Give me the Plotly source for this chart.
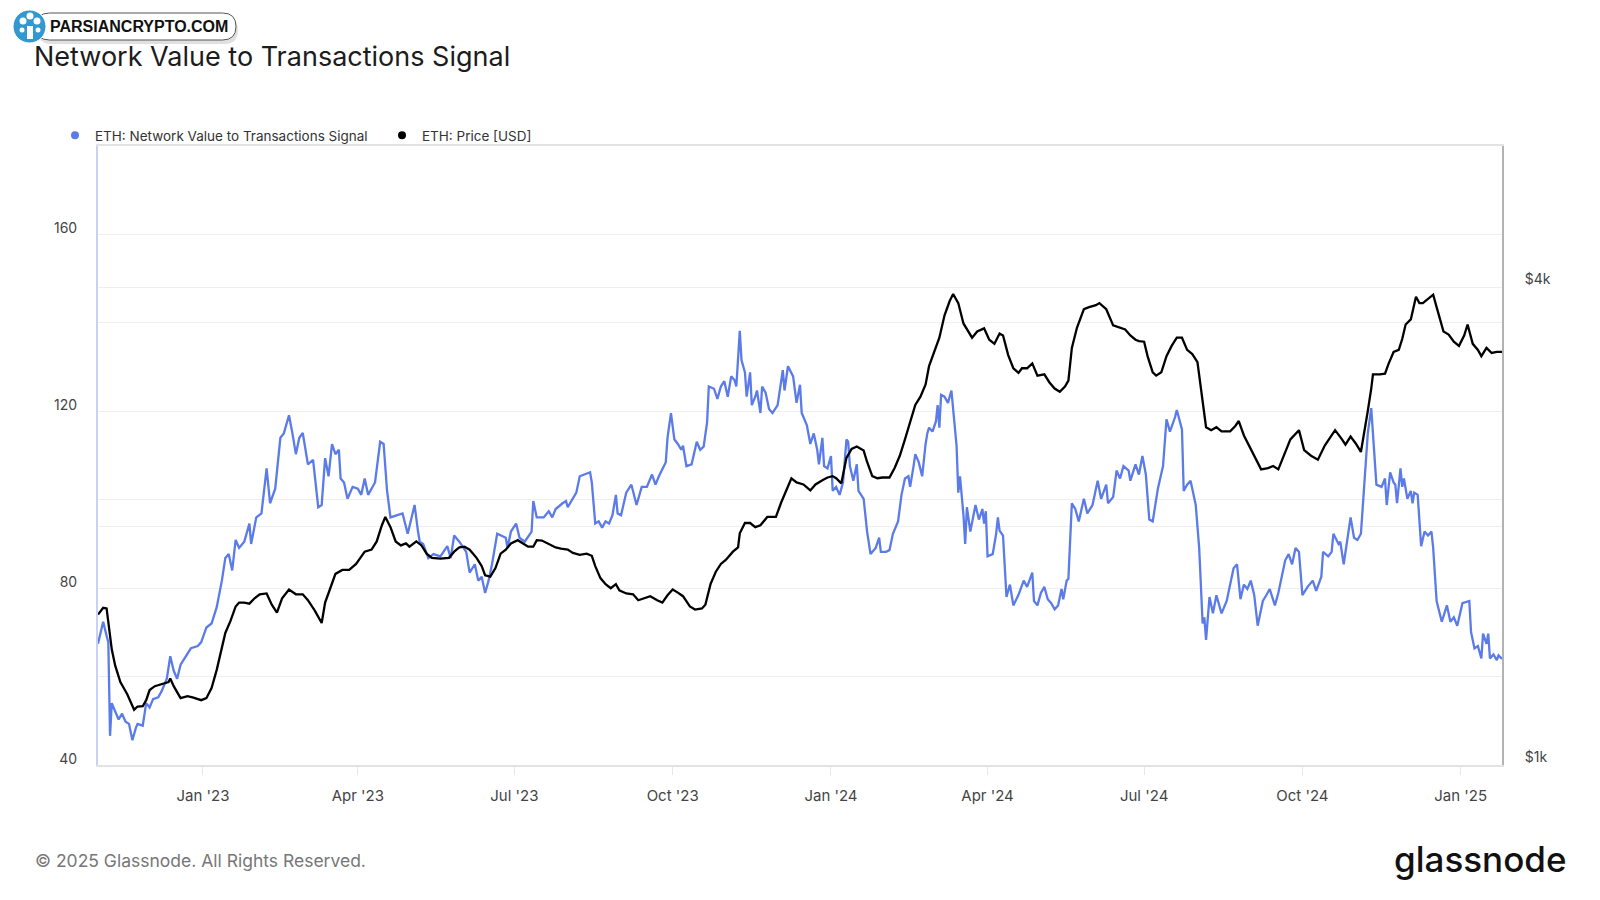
import plotly.graph_objects as go

# ---------------- data ----------------
nvt_dates = [
"2022-11-01","2022-11-04","2022-11-06","2022-11-07","2022-11-08","2022-11-09","2022-11-11","2022-11-13","2022-11-15","2022-11-17",
"2022-11-19","2022-11-21","2022-11-23","2022-11-24","2022-11-27","2022-11-29","2022-12-01","2022-12-03","2022-12-06","2022-12-08",
"2022-12-11","2022-12-13","2022-12-15","2022-12-17","2022-12-19","2022-12-22","2022-12-25","2022-12-29","2022-12-31","2023-01-03",
"2023-01-06","2023-01-09","2023-01-12","2023-01-14","2023-01-16","2023-01-18","2023-01-20","2023-01-22","2023-01-24","2023-01-25",
"2023-01-28","2023-01-29","2023-02-01","2023-02-04","2023-02-07","2023-02-09","2023-02-12","2023-02-15","2023-02-17","2023-02-20",
"2023-02-22","2023-02-24","2023-02-26","2023-02-28","2023-03-03","2023-03-06","2023-03-09","2023-03-11","2023-03-13","2023-03-15",
"2023-03-17","2023-03-19","2023-03-21","2023-03-22","2023-03-24","2023-03-26","2023-03-29","2023-04-01","2023-04-03","2023-04-05",
"2023-04-07","2023-04-11","2023-04-14","2023-04-16","2023-04-18","2023-04-20","2023-04-24","2023-04-27","2023-04-30","2023-05-02",
"2023-05-04","2023-05-06","2023-05-07","2023-05-09","2023-05-12","2023-05-15","2023-05-19","2023-05-23","2023-05-25","2023-05-27",
"2023-05-30","2023-06-03","2023-06-05","2023-06-08","2023-06-10","2023-06-12","2023-06-14","2023-06-16","2023-06-18","2023-06-21",
"2023-06-23","2023-06-26","2023-06-27","2023-06-29","2023-07-02","2023-07-04","2023-07-07","2023-07-11","2023-07-12","2023-07-14",
"2023-07-18","2023-07-21","2023-07-23","2023-07-25","2023-07-29","2023-07-31","2023-08-01","2023-08-04","2023-08-06","2023-08-08",
"2023-08-11","2023-08-14","2023-08-15","2023-08-17","2023-08-19","2023-08-21","2023-08-23","2023-08-25","2023-08-27","2023-08-29",
"2023-08-30","2023-09-01","2023-09-04","2023-09-07","2023-09-10","2023-09-13","2023-09-16","2023-09-19","2023-09-21","2023-09-23",
"2023-09-27","2023-09-28","2023-09-30","2023-10-02","2023-10-04","2023-10-06","2023-10-07","2023-10-09","2023-10-12","2023-10-15",
"2023-10-17","2023-10-19","2023-10-21","2023-10-22","2023-10-25","2023-10-27","2023-10-29","2023-10-31","2023-11-02","2023-11-04",
"2023-11-06","2023-11-07","2023-11-09","2023-11-10","2023-11-12","2023-11-13","2023-11-15","2023-11-16","2023-11-18","2023-11-19",
"2023-11-21","2023-11-22","2023-11-24","2023-11-26","2023-11-28","2023-12-01","2023-12-04","2023-12-05","2023-12-07","2023-12-10",
"2023-12-12","2023-12-14","2023-12-15","2023-12-18","2023-12-20","2023-12-22","2023-12-24","2023-12-25","2023-12-27","2023-12-28",
"2023-12-30","2024-01-01","2024-01-02","2024-01-04","2024-01-06","2024-01-08","2024-01-10","2024-01-11","2024-01-12","2024-01-14",
"2024-01-16","2024-01-17","2024-01-20","2024-01-22","2024-01-24","2024-01-27","2024-01-29","2024-01-30","2024-02-02","2024-02-04",
"2024-02-06","2024-02-09","2024-02-11","2024-02-13","2024-02-15","2024-02-16","2024-02-18","2024-02-19","2024-02-21","2024-02-23",
"2024-02-25","2024-02-26","2024-02-27","2024-02-29","2024-03-02","2024-03-03","2024-03-04","2024-03-05","2024-03-07","2024-03-09",
"2024-03-11","2024-03-12","2024-03-14","2024-03-15","2024-03-16","2024-03-18","2024-03-19","2024-03-20","2024-03-22","2024-03-25",
"2024-03-27","2024-03-29","2024-03-30","2024-03-31","2024-04-01","2024-04-04","2024-04-06","2024-04-07","2024-04-08","2024-04-10",
"2024-04-12","2024-04-14","2024-04-16","2024-04-19","2024-04-22","2024-04-24","2024-04-27","2024-04-28","2024-04-30","2024-05-02",
"2024-05-04","2024-05-06","2024-05-08","2024-05-10","2024-05-12","2024-05-14","2024-05-15","2024-05-17","2024-05-18","2024-05-20",
"2024-05-22","2024-05-24","2024-05-27","2024-05-29","2024-06-01","2024-06-04","2024-06-06","2024-06-09","2024-06-10","2024-06-13",
"2024-06-15","2024-06-17","2024-06-19","2024-06-22","2024-06-23","2024-06-26","2024-06-28","2024-06-30","2024-07-02","2024-07-04",
"2024-07-06","2024-07-09","2024-07-12","2024-07-14","2024-07-16","2024-07-19","2024-07-20","2024-07-23","2024-07-24","2024-07-26",
"2024-07-28","2024-07-31","2024-08-02","2024-08-04","2024-08-05","2024-08-06","2024-08-08","2024-08-10","2024-08-12","2024-08-15",
"2024-08-18","2024-08-20","2024-08-22","2024-08-24","2024-08-26","2024-08-28","2024-08-30","2024-09-01","2024-09-03","2024-09-05",
"2024-09-08","2024-09-10","2024-09-12","2024-09-15","2024-09-17","2024-09-21","2024-09-23","2024-09-25","2024-09-27","2024-09-29",
"2024-10-01","2024-10-04","2024-10-07","2024-10-09","2024-10-12","2024-10-13","2024-10-16","2024-10-18","2024-10-19","2024-10-22",
"2024-10-23","2024-10-25","2024-10-27","2024-10-29","2024-10-31","2024-11-02","2024-11-04","2024-11-06","2024-11-07","2024-11-08",
"2024-11-10","2024-11-11","2024-11-13","2024-11-16","2024-11-18","2024-11-19","2024-11-21","2024-11-23","2024-11-24","2024-11-25",
"2024-11-27","2024-11-28","2024-11-29","2024-12-01","2024-12-03","2024-12-04","2024-12-05","2024-12-07","2024-12-09","2024-12-11",
"2024-12-13","2024-12-15","2024-12-16","2024-12-18","2024-12-21","2024-12-24","2024-12-26","2024-12-28","2024-12-30","2025-01-02",
"2025-01-06","2025-01-07","2025-01-09","2025-01-11","2025-01-13","2025-01-14","2025-01-16","2025-01-17","2025-01-18","2025-01-20",
"2025-01-22","2025-01-23","2025-01-25",
]
nvt_values = [
67.4,72.4,69.2,67.8,46.6,54.0,52.1,50.3,51.6,49.8,
49.3,45.6,48.4,49.3,48.9,54.0,53.0,54.9,55.3,56.7,
59.5,64.6,61.3,59.5,62.7,64.6,66.4,66.9,67.8,71.1,
72.0,75.7,81.7,86.8,87.7,84.0,90.9,89.1,90.0,90.5,
94.6,90.0,96.0,96.9,107.1,99.2,102.5,114.0,115.0,119.1,
115.0,110.3,114.0,115.1,108.0,109.0,98.3,98.8,109.4,105.3,
112.6,110.3,111.3,104.8,103.9,100.2,102.9,102.5,101.1,104.8,
101.1,103.9,113.1,112.6,102.0,96.0,96.5,96.9,92.3,95.5,
98.8,92.8,90.5,90.0,86.8,87.7,87.2,89.5,86.8,91.9,
90.5,88.2,83.5,85.4,81.7,82.6,78.9,81.7,85.4,92.3,
91.9,91.4,89.1,92.8,94.6,91.4,90.5,92.8,99.7,96.0,
96.0,97.4,96.0,97.9,99.2,99.7,98.3,100.2,101.6,105.3,
105.7,106.2,103.9,94.6,95.1,93.7,95.1,94.6,96.5,101.1,
96.9,96.5,101.6,103.4,98.8,102.9,102.9,105.7,103.4,105.3,
108.5,114.0,119.6,113.6,112.6,111.3,112.2,107.6,108.0,113.1,
111.3,112.0,117.5,125.6,125.1,122.8,125.6,126.8,123.3,127.9,
127.0,125.6,138.2,131.6,128.8,123.3,128.8,121.4,123.3,124.7,
119.6,125.6,124.2,120.5,119.6,121.4,129.3,124.7,130.2,127.9,
121.9,126.0,119.6,116.8,112.6,115.0,111.3,108.0,114.0,107.6,
107.1,109.9,102.0,102.9,101.1,103.9,113.6,113.1,107.6,104.3,
108.0,102.0,100.2,92.8,87.7,89.1,91.4,88.2,88.2,88.6,
92.3,95.1,101.1,104.8,105.3,102.9,107.6,110.3,108.5,105.3,
112.6,115.0,116.3,115.4,117.7,121.4,116.3,123.7,123.3,121.9,
124.7,120.0,112.2,101.6,105.3,96.5,90.0,98.3,92.8,98.8,
95.5,97.9,94.6,97.4,87.2,87.7,92.3,96.0,93.0,91.9,
78.0,80.8,76.1,78.5,81.7,80.3,83.5,77.1,76.1,78.9,
80.3,77.5,76.6,75.2,76.1,79.8,77.5,81.7,82.1,99.2,
97.9,95.1,100.2,96.9,98.8,104.3,100.2,103.4,99.2,100.6,
106.6,104.8,107.6,106.6,104.3,108.0,105.7,109.9,105.7,95.5,
95.1,102.5,107.6,118.2,115.4,118.7,120.3,115.9,102.0,103.4,
104.3,98.8,89.1,72.0,73.4,68.3,78.0,74.3,78.4,74.3,
77.1,80.8,84.5,85.4,77.5,80.8,79.8,81.7,78.4,71.5,
77.1,78.4,79.8,76.1,78.9,86.3,87.7,85.4,89.1,88.2,
78.4,80.3,81.7,79.4,82.6,88.2,87.2,88.2,92.3,90.0,
90.5,85.4,90.5,96.0,91.4,90.9,92.3,104.8,108.5,115.0,
120.7,115.0,103.4,102.9,104.8,98.8,106.2,103.9,103.4,99.2,
107.1,102.9,104.8,100.2,102.0,99.2,101.6,101.1,89.5,92.8,
91.9,92.8,89.1,77.1,72.4,76.1,72.4,73.4,71.5,76.6,
77.1,70.1,66.4,66.9,64.1,69.7,67.4,69.7,64.1,65.0,
63.7,64.8,64.0,
]

price_dates = [
"2022-11-01","2022-11-04","2022-11-06","2022-11-07","2022-11-09","2022-11-11","2022-11-14","2022-11-18","2022-11-20","2022-11-22",
"2022-11-24","2022-11-27","2022-11-29","2022-12-01","2022-12-04","2022-12-08","2022-12-12","2022-12-13","2022-12-15","2022-12-19",
"2022-12-23","2022-12-26","2022-12-31","2023-01-03","2023-01-06","2023-01-09","2023-01-12","2023-01-14","2023-01-17","2023-01-20",
"2023-01-22","2023-01-25","2023-01-28","2023-01-31","2023-02-03","2023-02-07","2023-02-10","2023-02-13","2023-02-16","2023-02-20",
"2023-02-24","2023-02-28","2023-03-03","2023-03-07","2023-03-11","2023-03-13","2023-03-16","2023-03-19","2023-03-23","2023-03-27",
"2023-03-31","2023-04-05","2023-04-09","2023-04-12","2023-04-15","2023-04-17","2023-04-20","2023-04-23","2023-04-26","2023-04-29",
"2023-05-01","2023-05-05","2023-05-08","2023-05-11","2023-05-14","2023-05-19","2023-05-24","2023-05-27","2023-05-30","2023-06-02",
"2023-06-05","2023-06-09","2023-06-12","2023-06-14","2023-06-17","2023-06-20","2023-06-23","2023-06-26","2023-06-29","2023-07-03",
"2023-07-06","2023-07-09","2023-07-12","2023-07-14","2023-07-17","2023-07-21","2023-07-25","2023-07-28","2023-08-01","2023-08-04",
"2023-08-08","2023-08-12","2023-08-15","2023-08-17","2023-08-20","2023-08-23","2023-08-26","2023-08-29","2023-08-31","2023-09-04",
"2023-09-08","2023-09-11","2023-09-14","2023-09-18","2023-09-22","2023-09-25","2023-09-28","2023-10-01","2023-10-04","2023-10-07",
"2023-10-11","2023-10-14","2023-10-18","2023-10-20","2023-10-23","2023-10-26","2023-10-29","2023-11-01","2023-11-05","2023-11-08",
"2023-11-09","2023-11-12","2023-11-15","2023-11-18","2023-11-21","2023-11-25","2023-11-27","2023-11-30","2023-12-03","2023-12-06",
"2023-12-09","2023-12-12","2023-12-16","2023-12-20","2023-12-23","2023-12-27","2023-12-30","2024-01-02","2024-01-04","2024-01-07",
"2024-01-10","2024-01-13","2024-01-16","2024-01-20","2024-01-22","2024-01-25","2024-01-28","2024-01-31","2024-02-04","2024-02-07",
"2024-02-10","2024-02-13","2024-02-16","2024-02-19","2024-02-22","2024-02-25","2024-02-27","2024-03-01","2024-03-04","2024-03-07",
"2024-03-10","2024-03-12","2024-03-15","2024-03-18","2024-03-20","2024-03-23","2024-03-26","2024-03-30","2024-04-02","2024-04-05",
"2024-04-08","2024-04-10","2024-04-13","2024-04-16","2024-04-19","2024-04-21","2024-04-24","2024-04-27","2024-04-30","2024-05-04",
"2024-05-07","2024-05-10","2024-05-13","2024-05-16","2024-05-18","2024-05-20","2024-05-23","2024-05-27","2024-05-30","2024-06-03",
"2024-06-05","2024-06-09","2024-06-13","2024-06-16","2024-06-20","2024-06-23","2024-06-26","2024-06-28","2024-07-01","2024-07-03",
"2024-07-06","2024-07-08","2024-07-11","2024-07-14","2024-07-17","2024-07-20","2024-07-23","2024-07-26","2024-07-29","2024-08-01",
"2024-08-03","2024-08-06","2024-08-09","2024-08-12","2024-08-15","2024-08-20","2024-08-23","2024-08-25","2024-08-28","2024-08-31",
"2024-09-04","2024-09-07","2024-09-11","2024-09-14","2024-09-17","2024-09-21","2024-09-24","2024-09-29","2024-10-02","2024-10-06",
"2024-10-10","2024-10-14","2024-10-17","2024-10-20","2024-10-24","2024-10-26","2024-10-29","2024-11-01","2024-11-04","2024-11-06",
"2024-11-08","2024-11-10","2024-11-11","2024-11-15","2024-11-18","2024-11-20","2024-11-23","2024-11-26","2024-11-28","2024-11-30",
"2024-12-03","2024-12-06","2024-12-08","2024-12-10","2024-12-13","2024-12-16","2024-12-18","2024-12-20","2024-12-22","2024-12-25",
"2024-12-28","2024-12-31","2025-01-03","2025-01-05","2025-01-08","2025-01-11","2025-01-13","2025-01-16","2025-01-19","2025-01-22",
"2025-01-25",
]
price_values = [
1547,1578,1575,1519,1399,1334,1272,1228,1200,1174,
1185,1186,1207,1243,1257,1264,1272,1285,1257,1214,
1221,1217,1207,1214,1250,1318,1399,1467,1519,1584,
1602,1602,1597,1622,1641,1645,1592,1556,1622,1664,
1641,1641,1613,1565,1510,1602,1670,1741,1761,1761,
1792,1857,1868,1913,2005,2054,1994,1913,1891,1902,
1884,1913,1891,1846,1824,1820,1824,1857,1880,1884,
1868,1824,1781,1734,1727,1771,1846,1868,1902,1920,
1902,1884,1884,1920,1918,1898,1880,1873,1868,1850,
1840,1846,1835,1781,1720,1690,1670,1690,1660,1645,
1641,1613,1622,1632,1613,1602,1636,1664,1649,1632,
1584,1570,1575,1592,1690,1751,1792,1814,1857,1880,
1959,2018,2018,1994,2005,2054,2054,2054,2140,2218,
2298,2270,2257,2218,2257,2285,2303,2312,2298,2264,
2438,2502,2520,2490,2409,2312,2298,2303,2303,2367,
2453,2572,2696,2843,2911,3017,3181,3315,3455,3687,
3843,3922,3820,3601,3538,3455,3518,3550,3435,3394,
3497,3477,3285,3162,3120,3162,3162,3207,3095,3106,
3034,2981,2953,2998,3051,3354,3559,3753,3775,3797,
3820,3753,3580,3565,3538,3477,3435,3421,3415,3275,
3125,3095,3125,3275,3374,3455,3455,3335,3295,3218,
2963,2665,2642,2665,2633,2633,2674,2713,2602,2527,
2438,2358,2367,2381,2358,2480,2572,2642,2494,2453,
2425,2527,2587,2642,2572,2533,2593,2542,2480,2617,
2793,2981,3106,3106,3113,3200,3315,3335,3442,3590,
3643,3890,3820,3820,3866,3914,3775,3643,3518,3487,
3415,3374,3477,3590,3394,3335,3275,3354,3305,3315,
3315,
]

series_names = ["ETH: Network Value to Transactions Signal", "ETH: Price [USD]"]
left_tick_vals = [40, 60, 80, 100, 120, 140, 160]
left_tick_text = ["40", "", "80", "", "120", "", "160"]
right_tick_vals = [1000, 2000, 4000]
right_tick_text = ["$1k", "", "$4k"]

# ---------------- styling / layout ----------------
W, H = 1600, 900
ML, MR, MT, MB = 98, 98, 146, 135
BLUE = "#5b7be9"
FONT = "Inter, Roboto, sans-serif"


def px(x):
    return (x - ML) / (W - ML - MR)


def py(y):
    return (H - MB - y) / (H - MT - MB)


fig = go.Figure()
fig.add_trace(go.Scatter(x=nvt_dates, y=nvt_values, mode="lines", name=series_names[0],
                         line=dict(color=BLUE, width=2.3), showlegend=False, yaxis="y",
                         hoverinfo="x+y"))
fig.add_trace(go.Scatter(x=price_dates, y=price_values, mode="lines", name=series_names[1],
                         line=dict(color="#000000", width=2.3), showlegend=False, yaxis="y2",
                         hoverinfo="x+y"))
# legend entries (dots, like the reference)
fig.add_trace(go.Scatter(x=[None], y=[None], mode="markers", name=series_names[0],
                         marker=dict(color=BLUE, size=8)))
fig.add_trace(go.Scatter(x=[None], y=[None], mode="markers", name=series_names[1],
                         marker=dict(color="#000000", size=8), yaxis="y2"))

fig.update_layout(
    width=W, height=H,
    margin=dict(l=ML, r=MR, t=MT, b=MB, autoexpand=False),
    paper_bgcolor="white", plot_bgcolor="white",
    font=dict(family=FONT, color="#333333"),
    title=dict(text="Network Value to Transactions Signal", x=34 / W, xref="container",
               xanchor="left", y=1 - 57 / H, yref="container", yanchor="middle",
               font=dict(family=FONT, size=27, color="#1c1c1c")),
    legend=dict(orientation="h", xref="container", x=55 / W, yref="container",
                y=1 - 120 / H, yanchor="top", xanchor="left",
                font=dict(size=13.5, color="#333333"), bgcolor="rgba(0,0,0,0)",
                entrywidth=282, entrywidthmode="pixels", itemclick=False),
    xaxis=dict(type="date", range=["2022-11-01", "2025-01-25"], showgrid=False,
               showline=True, linecolor="#e3e3e3", linewidth=2, mirror=True,
               ticks="outside", ticklen=8, tickcolor="#e8e8e8", dtick="M3",
               tick0="2023-01-01", tickformat="%b '%y", ticklabelstandoff=8,
               tickfont=dict(size=15, color="#444444"), zeroline=False),
    yaxis=dict(range=[40, 180], tickvals=left_tick_vals, ticktext=left_tick_text,
               showgrid=True, gridcolor="#efefef", gridwidth=1, zeroline=False,
               showline=True, linecolor="#c8d2f6", linewidth=2, ticks="",
               ticklabelstandoff=16, ticklabelshift=-6,
               tickfont=dict(size=14, color="#444444")),
    yaxis2=dict(type="log", range=[3, 3.78], overlaying="y", side="right",
                tickvals=right_tick_vals, ticktext=right_tick_text,
                showgrid=True, gridcolor="#efefef", gridwidth=1, zeroline=False,
                showline=True, linecolor="#b3b3b3", linewidth=2, ticks="",
                ticklabelstandoff=18, ticklabelshift=-8,
                tickfont=dict(size=14, color="#444444")),
)

# footer
fig.add_annotation(text="© 2025 Glassnode. All Rights Reserved.", xref="paper", yref="paper",
                   x=px(33), y=py(860), xanchor="left", yanchor="middle", showarrow=False,
                   font=dict(family=FONT, size=17.5, color="#777777"))
fig.add_annotation(text="glassnode", xref="paper", yref="paper",
                   x=px(1568), y=py(859), xanchor="right", yanchor="middle", showarrow=False,
                   font=dict(family=FONT, size=35, color="#111111", weight=500))

# watermark badge (top-left)
x0, x1, y0, y1 = 36, 236, 13, 40
r = (y1 - y0) / 2
ym = (y0 + y1) / 2


def P(x, y):
    return f"{px(x):.5f},{py(y):.5f}"


def pill_path(dx, dy):
    a0, a1, b0, b1, bm = x0 + dx, x1 + dx, y0 + dy, y1 + dy, ym + dy
    return (f"M{P(a0 + r, b0)} L{P(a1 - r, b0)} Q{P(a1, b0)} {P(a1, bm)} "
            f"Q{P(a1, b1)} {P(a1 - r, b1)} L{P(a0 + r, b1)} Q{P(a0, b1)} {P(a0, bm)} "
            f"Q{P(a0, b0)} {P(a0 + r, b0)} Z")


fig.add_shape(type="path", path=pill_path(2, 4), xref="paper", yref="paper", layer="above",
              fillcolor="rgba(0,0,0,0.12)", line=dict(width=0))
fig.add_shape(type="path", path=pill_path(0, 0), xref="paper", yref="paper", layer="above",
              fillcolor="white", line=dict(color="#555555", width=1))
fig.add_shape(type="circle", xref="paper", yref="paper", layer="above",
              x0=px(13), x1=px(46), y0=py(43), y1=py(10),
              fillcolor="#3398cf", line=dict(color="white", width=1))
# simple white tree icon
fig.add_shape(type="rect", xref="paper", yref="paper", layer="above",
              x0=px(27), x1=px(33), y0=py(39), y1=py(26), fillcolor="white", line=dict(width=0))
for cx, cy, rr in [(23, 21, 3.5), (30, 16, 3.5), (37, 21, 3.5), (22, 30, 2.5), (38, 30, 2.5)]:
    fig.add_shape(type="circle", xref="paper", yref="paper", layer="above",
                  x0=px(cx - rr), x1=px(cx + rr), y0=py(cy + rr), y1=py(cy - rr),
                  fillcolor="white", line=dict(width=0))
fig.add_annotation(text="<b>PARSIANCRYPTO.COM</b>", xref="paper", yref="paper",
                   x=px(48), y=py(26.5), xanchor="left", yanchor="middle", showarrow=False,
                   font=dict(family="Liberation Sans, Arial, sans-serif", size=16, color="#111111"))

fig.write_html("out.html", config={"displayModeBar": False},
               post_script="document.body.style.margin='0';")
